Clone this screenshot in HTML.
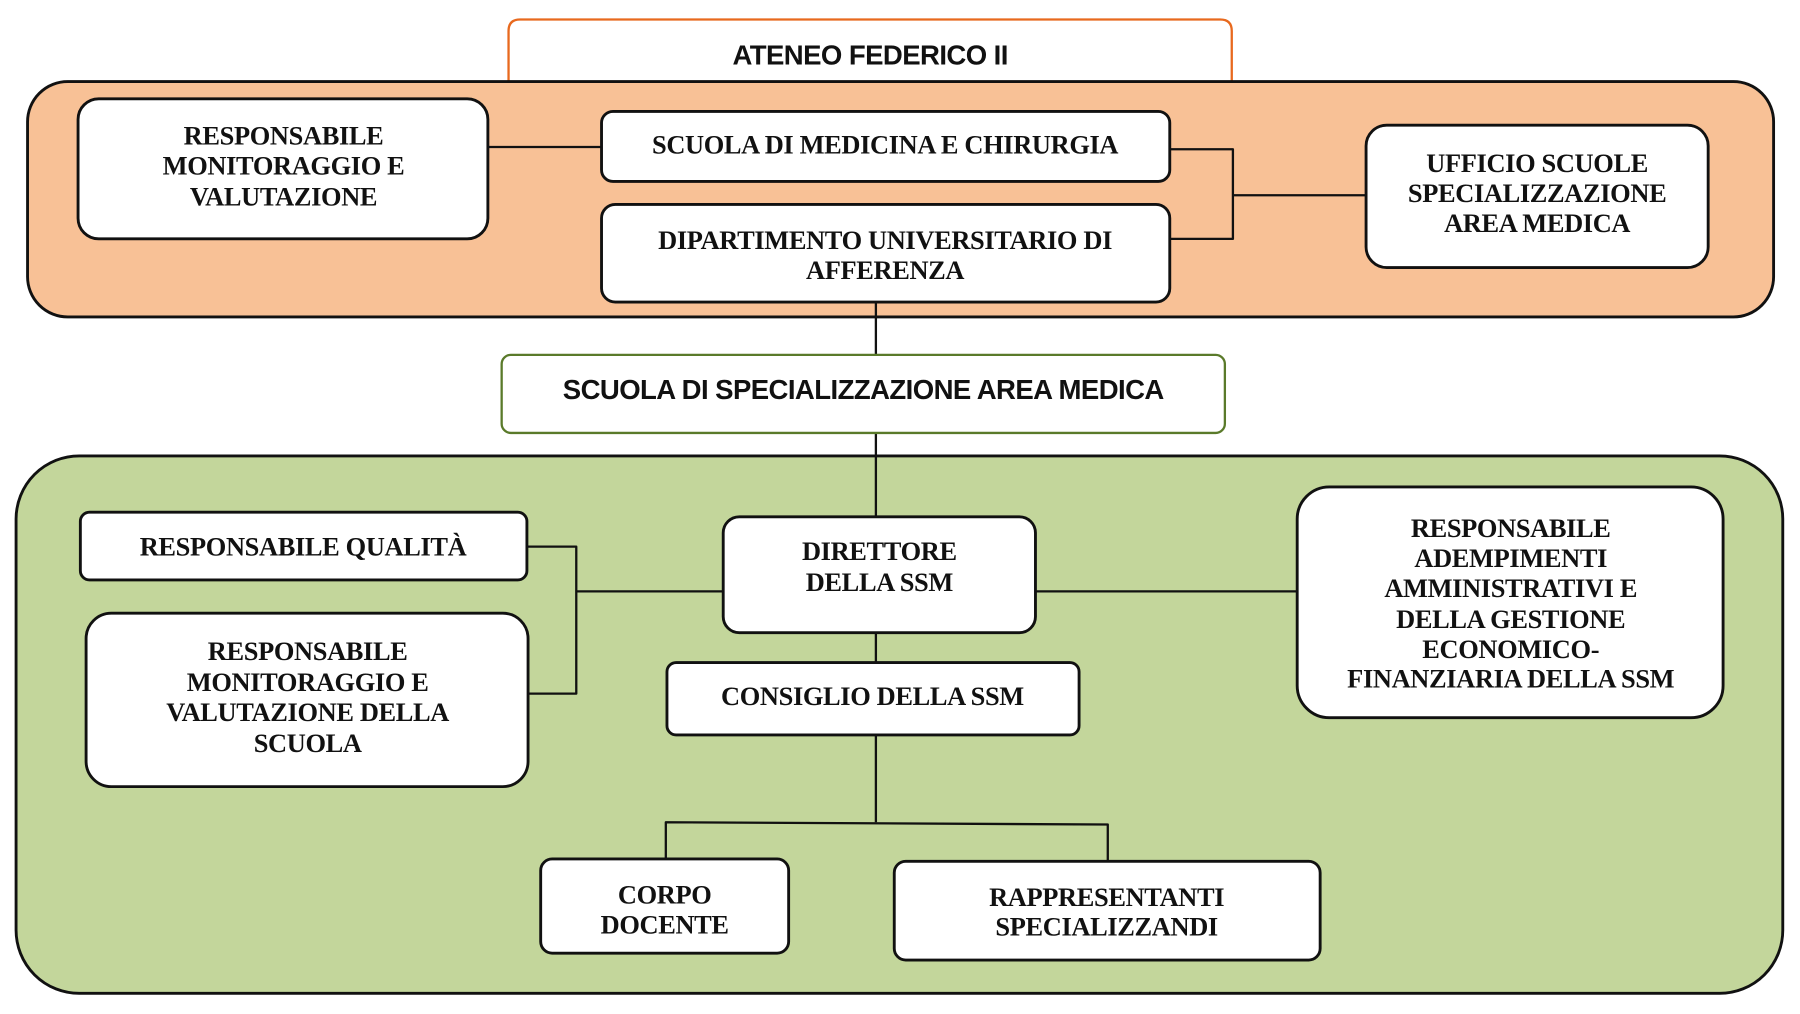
<!DOCTYPE html>
<html><head><meta charset="utf-8"><style>
html,body{margin:0;padding:0;background:#fff;}
svg{display:block;}
.s{font-family:"Liberation Serif",serif;font-weight:bold;font-size:23px;fill:#111;text-anchor:middle;dominant-baseline:central;letter-spacing:-0.3px;}
.a{font-family:"Liberation Sans",sans-serif;font-weight:bold;font-size:24px;fill:#111;text-anchor:middle;dominant-baseline:central;letter-spacing:-0.5px;}
</style></head><body>
<svg width="1800" height="1014" viewBox="0 0 1568 883" preserveAspectRatio="none" xmlns="http://www.w3.org/2000/svg">
<g stroke-linejoin="round">
<path d="M443,75 L443,27 Q443,17 453,17 L1063,17 Q1073,17 1073,27 L1073,75" fill="#fff" stroke="#E8691E" stroke-width="2"/>
<rect x="24" y="71" width="1521" height="205" rx="35" fill="#F8C196" stroke="#111" stroke-width="2.5"/>
<rect x="14" y="397" width="1539" height="468" rx="55" fill="#C3D69B" stroke="#111" stroke-width="2.5"/>
<g fill="none" stroke="#111" stroke-width="2">
<path d="M425,128 L524,128"/>
<path d="M1019,130 L1074,130 L1074,208 L1019,208 M1074,170 L1190,170"/>
<path d="M763,263 L763,309 M763,377 L763,450"/>
<path d="M459,476 L502,476 L502,604 L460,604 M502,515 L630,515"/>
<path d="M902,515 L1130,515 M763,551 L763,577 M763,640 L763,716"/>
<path d="M580,748 L580,716 L965,718 L965,750"/>
</g>
<g fill="#fff" stroke="#111" stroke-width="2.5">
<rect x="68" y="86" width="357" height="122" rx="18"/>
<rect x="524" y="97" width="495" height="61" rx="10"/>
<rect x="524" y="178" width="495" height="85" rx="12"/>
<rect x="1190" y="109" width="298" height="124" rx="18"/>
<rect x="70" y="446" width="389" height="59" rx="8"/>
<rect x="75" y="534" width="385" height="151" rx="22"/>
<rect x="630" y="450" width="272" height="101" rx="14"/>
<rect x="1130" y="424" width="371" height="201" rx="28"/>
<rect x="581" y="577" width="359" height="63" rx="8"/>
<rect x="471" y="748" width="216" height="82" rx="10"/>
<rect x="779" y="750" width="371" height="86" rx="10"/>
</g>
<rect x="437" y="309" width="630" height="68" rx="8" fill="#fff" stroke="#5A7A2A" stroke-width="2"/>
</g>
<text class="a" x="758" y="48" font-size="30" letter-spacing="-1">ATENEO FEDERICO II</text>
<text class="a" x="752" y="339">SCUOLA DI SPECIALIZZAZIONE AREA MEDICA</text>
<text class="s" x="247" y="118">RESPONSABILE</text>
<text class="s" x="247" y="144">MONITORAGGIO E</text>
<text class="s" x="247" y="171">VALUTAZIONE</text>
<text class="s" x="771" y="126">SCUOLA DI MEDICINA E CHIRURGIA</text>
<text class="s" x="771" y="209">DIPARTIMENTO UNIVERSITARIO DI</text>
<text class="s" x="771" y="235">AFFERENZA</text>
<text class="s" x="1339" y="142">UFFICIO SCUOLE</text>
<text class="s" x="1339" y="168">SPECIALIZZAZIONE</text>
<text class="s" x="1339" y="194">AREA MEDICA</text>
<text class="s" x="264" y="476">RESPONSABILE QUALITÀ</text>
<text class="s" x="268" y="567">RESPONSABILE</text>
<text class="s" x="268" y="594">MONITORAGGIO E</text>
<text class="s" x="268" y="620">VALUTAZIONE DELLA</text>
<text class="s" x="268" y="647">SCUOLA</text>
<text class="s" x="766" y="480">DIRETTORE</text>
<text class="s" x="766" y="507">DELLA SSM</text>
<text class="s" x="1316" y="460">RESPONSABILE</text>
<text class="s" x="1316" y="486">ADEMPIMENTI</text>
<text class="s" x="1316" y="512">AMMINISTRATIVI E</text>
<text class="s" x="1316" y="539">DELLA GESTIONE</text>
<text class="s" x="1316" y="565">ECONOMICO-</text>
<text class="s" x="1316" y="591">FINANZIARIA DELLA SSM</text>
<text class="s" x="760" y="606">CONSIGLIO DELLA SSM</text>
<text class="s" x="579" y="779">CORPO</text>
<text class="s" x="579" y="805">DOCENTE</text>
<text class="s" x="964" y="781">RAPPRESENTANTI</text>
<text class="s" x="964" y="807">SPECIALIZZANDI</text>
</svg>
</body></html>
